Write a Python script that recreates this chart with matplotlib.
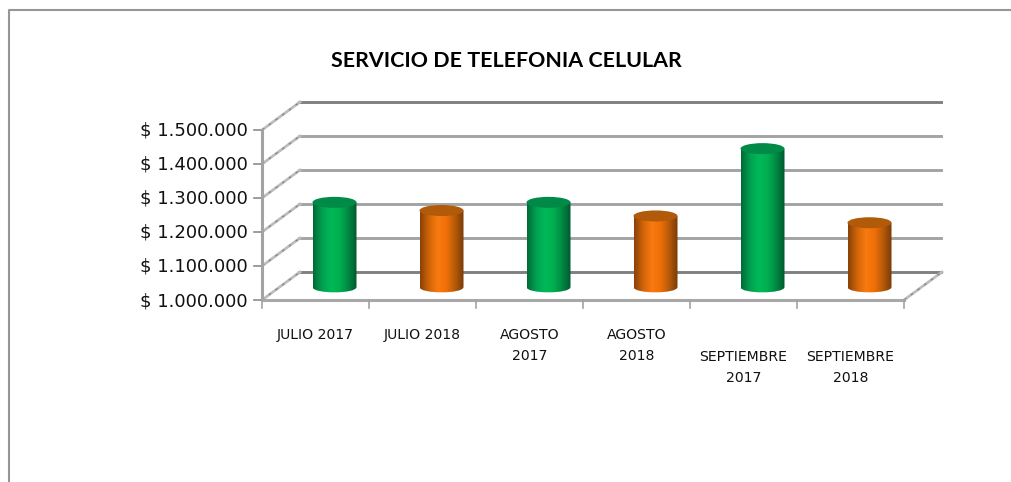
import numpy as np
import matplotlib
matplotlib.use('Agg')
import matplotlib.pyplot as plt
from matplotlib.patches import Ellipse, PathPatch
from matplotlib.path import Path
from matplotlib.transforms import ScaledTranslation

categories = ['JULIO 2017', 'JULIO 2018', 'AGOSTO\n2017', 'AGOSTO\n2018', 'SEPTIEMBRE\n2017', 'SEPTIEMBRE\n2018']
values = [1249000, 1225000, 1249000, 1209000, 1407000, 1189000]
bar_kind = ['green', 'orange', 'green', 'orange', 'green', 'orange']
y_ticks = [1000000, 1100000, 1200000, 1300000, 1400000, 1500000]
y_labels = ['$ 1.000.000', '$ 1.100.000', '$ 1.200.000', '$ 1.300.000', '$ 1.400.000', '$ 1.500.000']
title = 'SERVICIO DE TELEFONIA CELULAR'

W, H = 1011, 482
# front plane of the 3d box in pixels
x0, x1, y_bottom, y_top = 262, 904, 300, 130
dx, dy = 38, 28

colors = {
    'green': ['#006b38', '#00a050', '#00b858', '#00b050', '#008a44', '#005a30'],
    'orange': ['#8a4208', '#d06408', '#f87a10', '#f07008', '#b85a08', '#7a3c08'],
}
top_colors = {'green': '#008a48', 'orange': '#b05a0a'}

fig = plt.figure(figsize=(W / 100, H / 100), dpi=100)
ax = fig.add_axes([x0 / W, 1 - y_bottom / H, (x1 - x0) / W, (y_bottom - y_top) / H])
ax.set_xlim(0, len(categories))
ax.set_ylim(1000000, 1500000)
ax.axis('off')

def shifted(px, py):
    return ax.transData + ScaledTranslation(px / 100, py / 100, fig.dpi_scale_trans)

px_y = 500000 / (y_bottom - y_top)
px_x = len(categories) / (x1 - x0)

def side_line(x_start, t):
    xs = [x_start, x_start + dx * px_x]
    ys = [t, t + dy * px_y]
    ax.plot(xs, ys, color='#bdbdbd', lw=2, clip_on=False)
    ax.plot(xs, ys, color='#8a8a8a', lw=1, ls=(0, (2, 4)), clip_on=False)

# outer chart border
fig.add_artist(plt.Line2D([8.5 / W, 8.5 / W, 1], [0, 1 - 9.5 / H, 1 - 9.5 / H], color='#969696', lw=1.5))

# back wall gridlines and side wall
back = shifted(dx - 1, dy)
for i, t in enumerate(y_ticks):
    shade = '#808080' if i % 5 == 0 else '#a3a3a3'
    ax.plot([0, 6], [t, t], color=shade, lw=2.1, transform=back, clip_on=False)
    side_line(0, t)
    ax.plot([-8 * px_x, 0], [t, t], color='#8c8c8c', lw=1.2, clip_on=False)

side_line(6, 1000000)

# front axis lines
ax.plot([0, 0], [1000000, 1500000], color='#a3a3a3', lw=2.2, clip_on=False)
ax.plot([0, 6], [1000000, 1000000], color='#a8a8a8', lw=2.2, clip_on=False)
for i in range(7):
    ax.plot([i, i], [1000000, 1000000 - 8 * px_y], color='#a3a3a3', lw=1.2, clip_on=False)

# cylinders
rx = 22 * px_x
ry = 5.5 * px_y
off = shifted(19, 13)
for i, (v, k) in enumerate(zip(values, bar_kind)):
    c = i + 0.5
    cmap = matplotlib.colors.LinearSegmentedColormap.from_list(k, colors[k])
    grad = np.linspace(0, 1, 64).reshape(1, -1)
    im = ax.imshow(grad, cmap=cmap, aspect='auto', extent=[c - rx, c + rx, 1000000 - ry * 1.2, v], transform=off, zorder=3, clip_on=True)
    verts = [(c - rx, v), (c - rx, 1000000), (c - rx, 1000000 - ry * 1.3), (c + rx, 1000000 - ry * 1.3), (c + rx, 1000000), (c + rx, v), (c - rx, v)]
    codes = [Path.MOVETO, Path.LINETO, Path.CURVE4, Path.CURVE4, Path.CURVE4, Path.LINETO, Path.CLOSEPOLY]
    body = PathPatch(Path(verts, codes), transform=off, fc='none', ec='none')
    ax.add_patch(body)
    im.set_clip_path(body)
    ax.add_patch(Ellipse((c, v), 2 * rx, 2 * ry, fc=top_colors[k], ec='none', transform=off, zorder=4, clip_on=False))

ax.set_xlim(0, len(categories))
ax.set_ylim(1000000, 1500000)

# texts
for t, lab in zip(y_ticks, y_labels):
    ax.annotate(lab, (0, t), xytext=(-14, -1), textcoords='offset pixels', ha='right', va='center',
                fontsize=13, family='DejaVu Sans', color='#111111', annotation_clip=False)
for i, lab in enumerate(categories):
    # the long september labels sit one row lower in the original
    top = 350 if lab.startswith('SEPT') else 328
    fig.text((x0 + (i + 0.5) * (x1 - x0) / 6) / W, 1 - top / H, lab, ha='center', va='top', fontsize=10.1,
             family='DejaVu Sans', color='#111111', linespacing=1.65)
fig.text(506 / W, 1 - 61 / H, title, ha='center', va='center', fontsize=15.4, family='Lato', weight='bold', color='black')

fig.savefig('out.png', dpi=100)
